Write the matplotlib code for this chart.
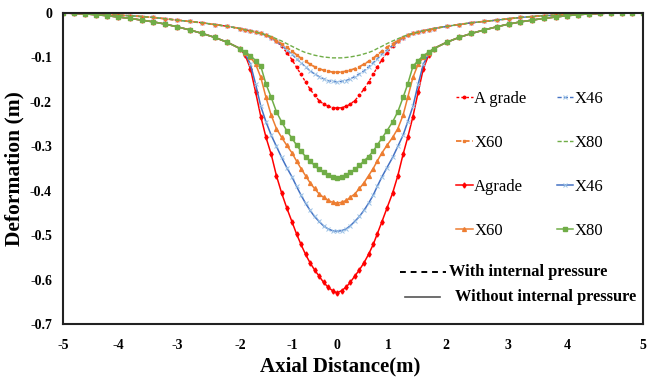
import numpy as np
import matplotlib
matplotlib.use("Agg")
import matplotlib.pyplot as plt
from matplotlib.lines import Line2D

plt.rcParams['font.family'] = ['Liberation Serif', 'DejaVu Serif']
plt.rcParams['axes.unicode_minus'] = False

# axial distance (m) of each sample point
x = [-5.0, -4.8, -4.6, -4.4, -4.2, -4.0, -3.8, -3.6, -3.4, -3.2, -3.0, -2.8, -2.6, -2.4, -2.2, -2.0,
     -1.9, -1.8, -1.7, -1.6, -1.5, -1.4, -1.3, -1.2, -1.1, -1.0, -0.9, -0.8, -0.7, -0.6, -0.5,
     -0.4, -0.3, -0.2, -0.1, 0.0,
     0.09, 0.18, 0.26, 0.35, 0.44, 0.53, 0.62, 0.71, 0.79, 0.88, 0.98, 1.08, 1.17, 1.26, 1.34,
     1.43, 1.52, 1.61, 1.70, 1.79,
     2.01, 2.21, 2.41, 2.62, 2.82, 3.01, 3.21, 3.41, 3.61, 3.81, 4.0, 4.14, 4.29, 4.43, 4.58,
     4.72, 4.86, 5.0]

# shared tails
tail_solid_l = [0, -0.001, -0.002, -0.004, -0.006, -0.009, -0.012, -0.016, -0.020, -0.025,
                -0.031, -0.038, -0.046, -0.055, -0.066, -0.080]
tail_solid_r = [-0.066, -0.055, -0.046, -0.038, -0.031, -0.025, -0.020, -0.016, -0.012,
                -0.009, -0.006, -0.004, -0.002, -0.001, 0, 0, 0, 0]
tail_dash_l = [0, -0.001, -0.001, -0.002, -0.003, -0.005, -0.006, -0.008, -0.010, -0.013,
               -0.016, -0.019, -0.022, -0.026, -0.030, -0.035]
tail_dash_r = [-0.030, -0.026, -0.022, -0.019, -0.016, -0.013, -0.010, -0.008, -0.006,
               -0.005, -0.003, -0.002, -0.001, -0.001, 0, 0, 0, 0]

# without internal pressure (solid)
agrade_wo = tail_solid_l + [
    -0.095, -0.125, -0.178, -0.233, -0.280, -0.318, -0.366, -0.405, -0.439, -0.470,
    -0.497, -0.521, -0.543, -0.562, -0.578, -0.592, -0.606, -0.617, -0.625, -0.630,
    -0.625, -0.617, -0.606, -0.592, -0.578, -0.562, -0.543, -0.521, -0.497, -0.470,
    -0.439, -0.405, -0.366, -0.318, -0.280, -0.233, -0.178, -0.125, -0.095, -0.080] + tail_solid_r
x46_wo = tail_solid_l + [
    -0.092, -0.115, -0.160, -0.210, -0.245, -0.275, -0.300, -0.325, -0.348, -0.369,
    -0.390, -0.410, -0.428, -0.444, -0.458, -0.469, -0.479, -0.486, -0.490, -0.491,
    -0.490, -0.486, -0.479, -0.469, -0.458, -0.444, -0.428, -0.410, -0.390, -0.369,
    -0.348, -0.325, -0.300, -0.275, -0.245, -0.210, -0.160, -0.115, -0.092, -0.080] + tail_solid_r
x60_wo = tail_solid_l + [
    -0.090, -0.100, -0.115, -0.145, -0.190, -0.230, -0.260, -0.280, -0.298, -0.315,
    -0.333, -0.350, -0.366, -0.382, -0.395, -0.407, -0.415, -0.422, -0.426, -0.428,
    -0.426, -0.422, -0.415, -0.407, -0.395, -0.382, -0.366, -0.350, -0.333, -0.315,
    -0.298, -0.280, -0.260, -0.230, -0.190, -0.145, -0.115, -0.100, -0.090, -0.080] + tail_solid_r
x80_wo = tail_solid_l + [
    -0.088, -0.096, -0.107, -0.120, -0.160, -0.190, -0.222, -0.245, -0.265, -0.282,
    -0.297, -0.311, -0.323, -0.333, -0.343, -0.352, -0.359, -0.365, -0.369, -0.371,
    -0.369, -0.365, -0.359, -0.352, -0.343, -0.333, -0.323, -0.311, -0.297, -0.282,
    -0.265, -0.245, -0.222, -0.190, -0.160, -0.120, -0.107, -0.096, -0.088, -0.080] + tail_solid_r

# with internal pressure (dashed)
agrade_w = tail_dash_l + [
    -0.038, -0.040, -0.043, -0.046, -0.050, -0.056, -0.064, -0.075, -0.089, -0.105,
    -0.122, -0.138, -0.155, -0.171, -0.185, -0.197, -0.205, -0.210, -0.213, -0.214,
    -0.213, -0.210, -0.205, -0.197, -0.185, -0.171, -0.155, -0.138, -0.122, -0.105,
    -0.089, -0.075, -0.064, -0.056, -0.050, -0.046, -0.043, -0.040, -0.038, -0.035] + tail_dash_r
x46_w = tail_dash_l + [
    -0.038, -0.040, -0.043, -0.046, -0.050, -0.056, -0.064, -0.073, -0.083, -0.093,
    -0.103, -0.112, -0.121, -0.130, -0.137, -0.143, -0.148, -0.152, -0.154, -0.155,
    -0.154, -0.152, -0.148, -0.143, -0.137, -0.130, -0.121, -0.112, -0.103, -0.093,
    -0.083, -0.073, -0.064, -0.056, -0.050, -0.046, -0.043, -0.040, -0.038, -0.035] + tail_dash_r
x60_w = tail_dash_l + [
    -0.038, -0.040, -0.043, -0.046, -0.050, -0.055, -0.062, -0.069, -0.077, -0.086,
    -0.094, -0.102, -0.109, -0.115, -0.121, -0.125, -0.129, -0.131, -0.133, -0.133,
    -0.133, -0.131, -0.129, -0.125, -0.121, -0.115, -0.109, -0.102, -0.094, -0.086,
    -0.077, -0.069, -0.062, -0.055, -0.050, -0.046, -0.043, -0.040, -0.038, -0.035] + tail_dash_r
x80_w = tail_dash_l + [
    -0.038, -0.040, -0.043, -0.046, -0.049, -0.053, -0.058, -0.063, -0.069, -0.075,
    -0.080, -0.085, -0.089, -0.092, -0.095, -0.097, -0.099, -0.100, -0.101, -0.101,
    -0.101, -0.100, -0.099, -0.097, -0.095, -0.092, -0.089, -0.085, -0.080, -0.075,
    -0.069, -0.063, -0.058, -0.053, -0.049, -0.046, -0.043, -0.040, -0.038, -0.035] + tail_dash_r

x_ticks = [-5, -4, -3, -2, -1, 0, 1, 2, 3, 4, 5]
y_ticks = [0, -0.1, -0.2, -0.3, -0.4, -0.5, -0.6, -0.7]

# the category axis of the original is not linear: where each tick sits (px)
tick_px = [63, 118, 177, 240, 292, 337, 388, 446, 508, 567, 643]

RED, BLUE, ORANGE, GREEN = '#FF0000', '#4472C4', '#ED7D31', '#70AD47'
LIGHTBLUE = '#9DC3E6'

fig = plt.figure(figsize=(6.55, 3.8), dpi=100)
ax = fig.add_axes([63/655, 1-324/380, 580/655, 311/380])

fwd = lambda v: np.interp(v, x_ticks, tick_px)
inv = lambda p: np.interp(p, tick_px, x_ticks)
ax.set_xscale('function', functions=(fwd, inv))

h = {}
h['aw'], = ax.plot(x, agrade_w, color=RED, ls=(0, (2, 1.5)), lw=1.0,
                   marker='o', ms=1.8, label='A grade')
h['bw'], = ax.plot(x, x46_w, color=BLUE, ls=(0, (3, 1.5)), lw=1.0,
                   marker='x', ms=2.5, mec=LIGHTBLUE, mew=0.7, label='X46')
h['ow'], = ax.plot(x, x60_w, color=ORANGE, ls=(0, (3, 1.5)), lw=1.3,
                   marker='s', ms=1.6, label='X60')
h['gw'], = ax.plot(x, x80_w, color=GREEN, ls=(0, (3, 1.5)), lw=1.0, label='X80')

h['as'], = ax.plot(x, agrade_wo, color=RED, lw=1.1, marker='d', ms=2.6, label='Agrade')
h['bs'], = ax.plot(x, x46_wo, color=BLUE, lw=1.1, marker='x', ms=2.5,
                   mec=LIGHTBLUE, mew=0.7, label='X46')
h['os'], = ax.plot(x, x60_wo, color=ORANGE, lw=1.1, marker='^', ms=2.8, label='X60')
h['gs'], = ax.plot(x, x80_wo, color=GREEN, lw=1.1, marker='s', ms=2.3, label='X80')

ax.set_xlim(-5, 5)
ax.set_ylim(-0.7, 0)
ax.set_xticks(x_ticks)
ax.set_xticklabels([str(t) for t in x_ticks])
ax.set_yticks(y_ticks)
ax.set_yticklabels(['0' if t == 0 else f'{t:.1f}' for t in y_ticks])
ax.tick_params(length=0, labelsize=10)
ax.tick_params(axis='x', pad=11)
ax.tick_params(axis='y', pad=8)
for lab in ax.get_xticklabels() + ax.get_yticklabels():
    lab.set_fontweight('bold')
for sp in ax.spines.values():
    sp.set_linewidth(1.5)
    sp.set_color('#222222')

ax.set_xlabel('Axial Distance(m)', fontsize=15, fontweight='bold')
ax.xaxis.set_label_coords((340-63)/580, -0.105)
ax.set_ylabel('Deformation (m)', fontsize=15.5, fontweight='bold')
ax.yaxis.set_label_coords(-0.066, 0.5)

order = ['aw', 'ow', 'as', 'os', 'bw', 'gw', 'bs', 'gs']
ax.legend([h[k] for k in order], [h[k].get_label() for k in order], ncol=2,
          loc='upper left', bbox_to_anchor=(441/655, 1-76/380), bbox_transform=fig.transFigure,
          frameon=False, fontsize=12, handlelength=1.0, handletextpad=0.1,
          labelspacing=1.68, columnspacing=1.8, numpoints=1)

# pressure key
fig.add_artist(Line2D([400/655, 446/655], [1-272/380, 1-272/380], color='black',
                      ls=(0, (3, 2.5)), lw=1.4, transform=fig.transFigure))
fig.text(449/655, 1-272/380, 'With internal pressure', fontsize=11.8, fontweight='bold',
         va='center', ha='left')
fig.add_artist(Line2D([405/655, 440/655], [1-297/380, 1-297/380], color='#555555',
                      lw=1.2, transform=fig.transFigure))
fig.text(455/655, 1-297/380, 'Without internal pressure', fontsize=11.8, fontweight='bold',
         va='center', ha='left')

fig.savefig('out.png', dpi=100)
